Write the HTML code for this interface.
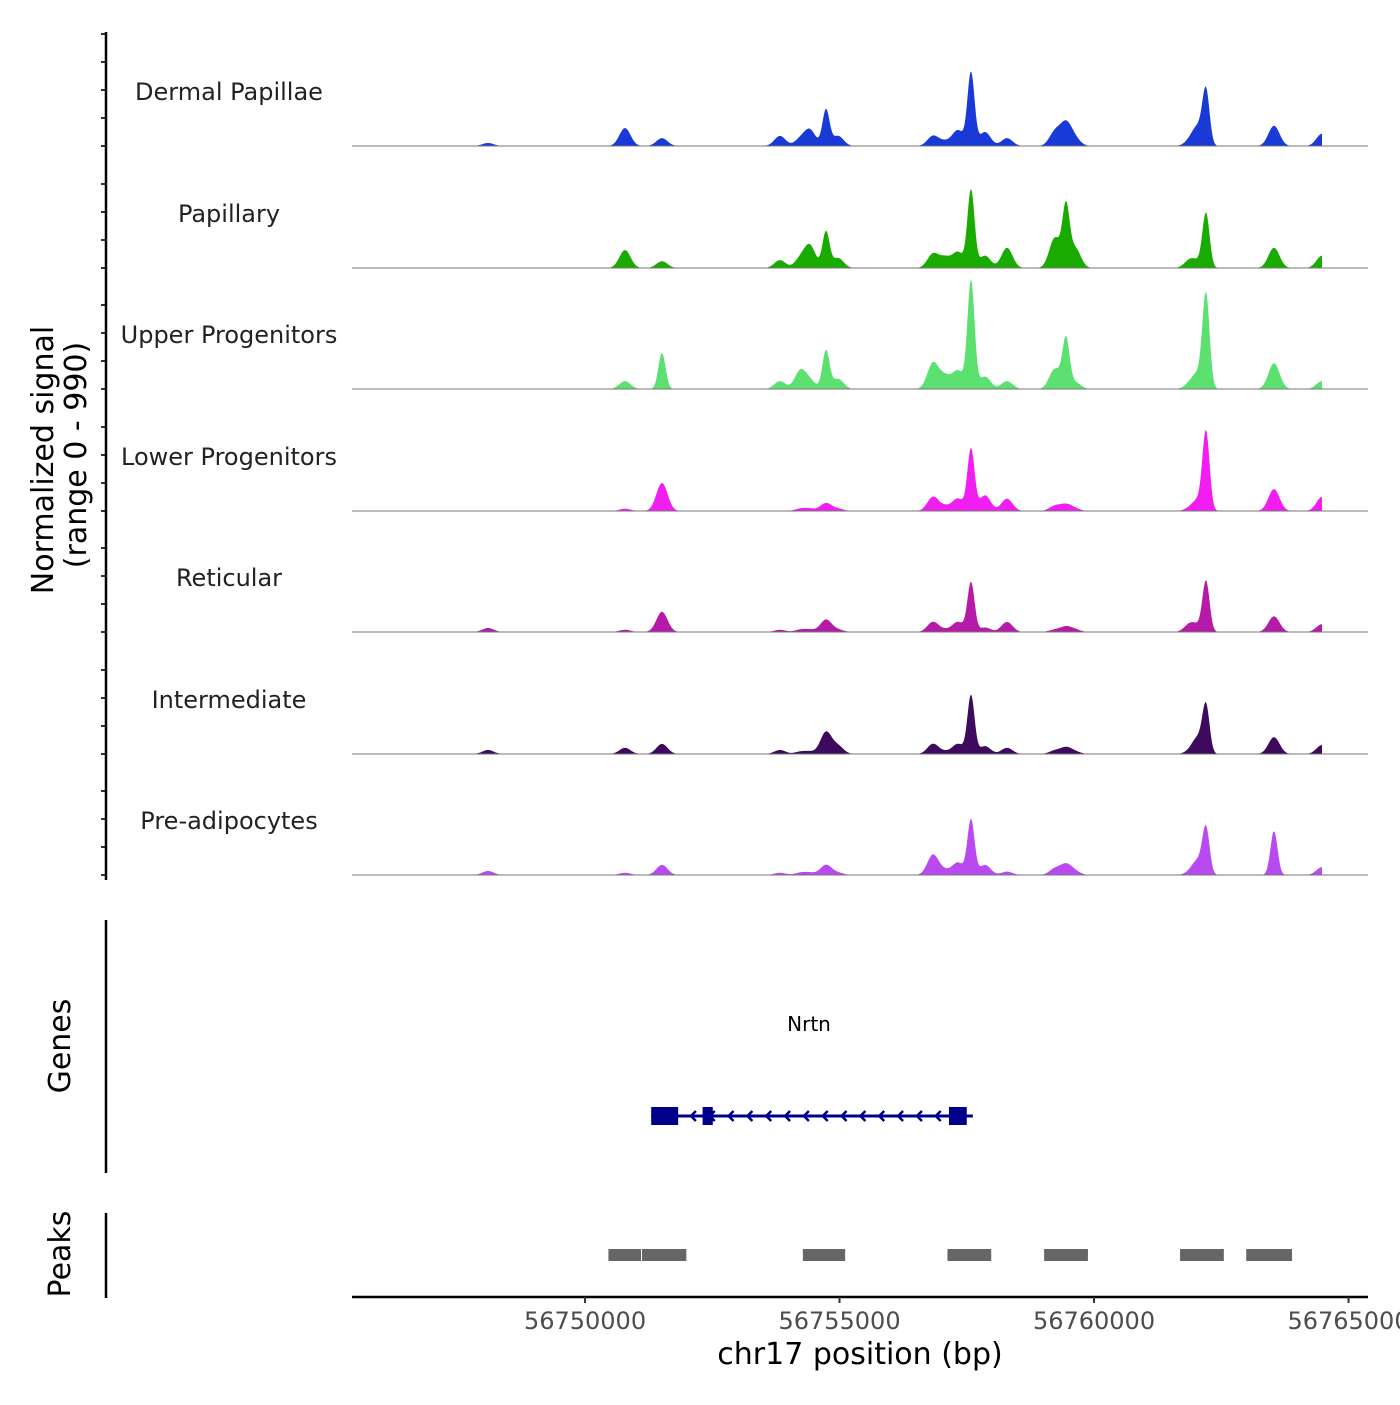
<!DOCTYPE html>
<html><head><meta charset="utf-8"><style>
body{margin:0;background:#fff}
svg text{font-family:"DejaVu Sans","Liberation Sans",sans-serif}
</style></head><body>
<svg id="c" width="1400" height="1400" xmlns="http://www.w3.org/2000/svg"></svg>
<script>
const trackNames=["Dermal Papillae","Papillary","Upper Progenitors","Lower Progenitors","Reticular","Intermediate","Pre-adipocytes"];
const trackColors=["#1a3ad8","#1aab00","#5ce070","#f01ef0","#b51aa8","#3d0a5e","#b84af0"];
const peakPos=[56746994,56748094,56750785,56751512,56753830,56754230,56754420,56754734,56754970,56756836,56757072,56757327,56757583,56757858,56758290,56759233,56759449,56759626,56761885,56762042,56762200,56763536,56764479];
const trackHeights=[
[0,27,160,70,90,60,140,320,90,90,40,140,650,125,70,125,195,60,40,160,470,180,110],
[36,0,160,60,70,80,195,320,90,125,90,140,690,110,180,270,510,180,70,40,480,180,110],
[0,0,70,320,70,160,70,340,90,230,110,160,960,110,70,180,430,60,40,125,820,230,70],
[0,0,20,250,0,20,20,70,20,125,40,110,550,140,110,45,55,20,20,90,690,195,125],
[0,36,20,180,20,20,20,110,20,90,20,90,440,40,90,20,45,20,70,40,445,140,70],
[0,36,55,90,36,20,20,195,70,90,20,90,520,70,55,30,55,20,20,140,410,150,80],
[27,36,20,90,20,20,20,90,20,180,40,110,490,90,30,55,90,30,20,125,400,390,70]];
const ticksX=[56750000,56755000,56760000,56765000];
const exons=[[56751300,56751830],[56752310,56752510],[56757150,56757500]];
const geneSpan=[56751300,56757620];
const peakRegions=[[56750460,56751120],[56751120,56752010],[56754280,56755130],[56757120,56758000],[56759020,56759900],[56761690,56762570],[56762990,56763910]];

const NS="http://www.w3.org/2000/svg",svg=document.getElementById('c');
const X0=56745422,PX0=352,BPX=254.5/5000;
const xs=bp=>PX0+(bp-X0)*BPX;
const UNIT=0.112;
function mk(t,a,p){const e=document.createElementNS(NS,t);for(const k in a)e.setAttribute(k,a[k]);(p||svg).appendChild(e);return e;}
function txt(s,a){const e=mk('text',a);e.textContent=s;return e;}
const bases=[146,268,389,511,632,754,875];
const sigEnd=56764479,sigStart=56747770;
trackNames.forEach((n,i)=>{
  const b=bases[i];
  const t=txt(n,{x:229,y:b-46,'text-anchor':'middle','font-size':24,fill:'#222'});
  
  
  let d=`M${xs(sigStart)},${b}`;
  for(let px=Math.ceil(xs(sigStart));px<=xs(sigEnd);px+=0.5){
    const bp=X0+(px-PX0)/BPX;let v=0;
    peakPos.forEach((p,j)=>{const h=trackHeights[i][j];const w=h>300?70:110;v+=h*Math.exp(-0.5*Math.pow((bp-p)/w,2));});
    d+=`L${px},${(b-v*UNIT).toFixed(2)}`;
  }
  d+=`L${xs(sigEnd)},${b}Z`;
  const a=mk('path',{d,fill:trackColors[i]});
  
  
  const l=mk('line',{x1:352,x2:1368,y1:b,y2:b,stroke:'#777','stroke-width':1});
  
  
  for(let k=0;k<5;k++){if(i>0&&k==4)continue;const y=b-k*28;mk('line',{x1:101,x2:106,y1:y,y2:y,stroke:'#333','stroke-width':2});}
  if(i==0)mk('line',{x1:101,x2:106,y1:34,y2:34,stroke:'#333','stroke-width':2});
});
[[32,880],[920,1173],[1213,1298]].forEach(([a,b],i)=>{const l=mk('line',{x1:106,x2:106,y1:a,y2:b,stroke:'#000','stroke-width':2.5});});
let yt=txt('Normalized signal',{transform:'translate(53,460) rotate(-90)','text-anchor':'middle','font-size':30,fill:'#000'});

yt=txt('(range 0 - 990)',{transform:'translate(86,455) rotate(-90)','text-anchor':'middle','font-size':30,fill:'#000'});

yt=txt('Genes',{transform:'translate(70,1046) rotate(-90)','text-anchor':'middle','font-size':30,fill:'#000'});

yt=txt('Peaks',{transform:'translate(70,1254) rotate(-90)','text-anchor':'middle','font-size':30,fill:'#000'});

const g=mk('g',{});
mk('line',{x1:xs(geneSpan[0]),x2:xs(geneSpan[1]),y1:1116,y2:1116,stroke:'#00008b','stroke-width':3},g);
for(let bp=geneSpan[0]+800;bp<geneSpan[1];bp+=370){const x=xs(bp);mk('polyline',{points:`${x+4},${1111} ${x-1},${1116} ${x+4},${1121}`,fill:'none',stroke:'#00008b','stroke-width':2.5},g);}
exons.forEach(e=>mk('rect',{x:xs(e[0]),y:1107,width:xs(e[1])-xs(e[0]),height:18,fill:'#00008b'},g));
const gl=txt('Nrtn',{x:809,y:1031,'text-anchor':'middle','font-size':20,fill:'#000'});

peakRegions.forEach((p,i)=>{const r=mk('rect',{x:xs(p[0]),y:1249,width:xs(p[1])-xs(p[0])-1,height:12,fill:'#666'});});
const ax=mk('line',{x1:352,x2:1368,y1:1297,y2:1297,stroke:'#000','stroke-width':2.5});

ticksX.forEach(t=>{const x=xs(t);mk('line',{x1:x,x2:x,y1:1297,y2:1303,stroke:'#333','stroke-width':2});const e=txt(String(t),{x,y:1329,'text-anchor':'middle','font-size':24,fill:'#4d4d4d'});});
const xt=txt('chr17 position (bp)',{x:860,y:1364,'text-anchor':'middle','font-size':30,fill:'#000'});

</script>
</body></html>
